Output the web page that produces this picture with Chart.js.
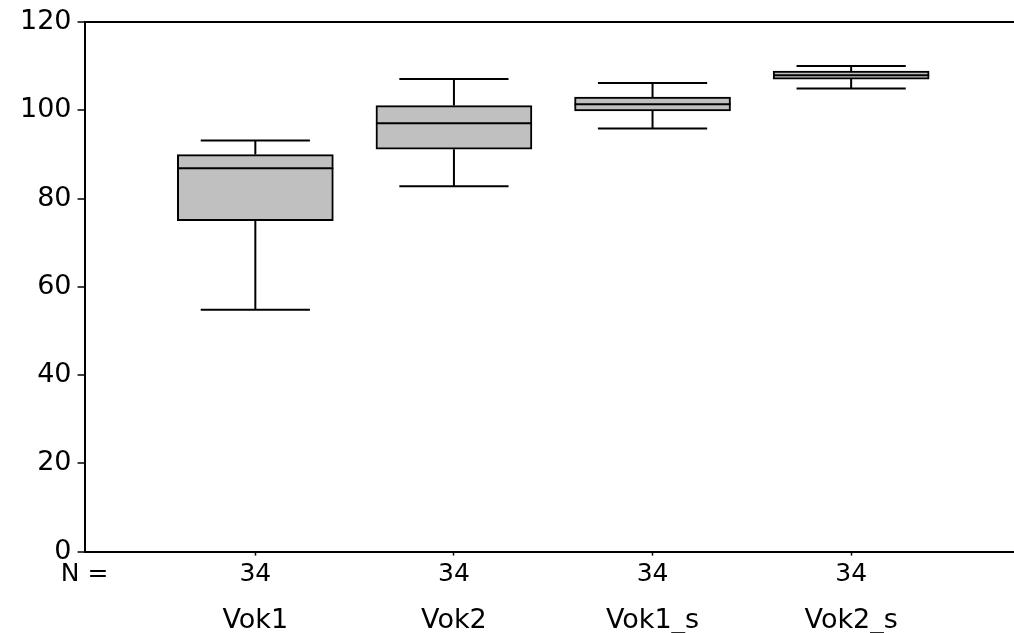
<!DOCTYPE html>
<html>
<head>
<meta charset="utf-8">
<script src="https://cdn.jsdelivr.net/npm/chart.js@4"></script>
<style>
  html, body { margin: 0; padding: 0; background: #fff; }
  #wrap { width: 1014px; height: 633px; }
</style>
</head>
<body>
<div id="wrap"><canvas id="c"></canvas></div>
<script>
// boxplot values
var categories = ['Vok1', 'Vok2', 'Vok1_s', 'Vok2_s'];
var counts = [34, 34, 34, 34];
var minVals = [54.8, 82.8, 95.9, 105.0];
var q1Vals = [75.0, 91.2, 99.9, 107.1];
var medianVals = [86.9, 97.1, 101.4, 108.0];
var q3Vals = [90.0, 101.1, 103.0, 108.9];
var maxVals = [93.2, 107.1, 106.2, 110.1];
var yTicks = [0, 20, 40, 60, 80, 100, 120];

var X_MIN = 0.14, X_MAX = 4.82;
var FONT = 'DejaVu Sans';

// whiskers and medians, drawn through the chart's scales
var whiskerPlugin = {
    id: 'whiskers',
    afterDatasetsDraw: function (chart) {
        var ctx = chart.ctx;
        var x = chart.scales.x, y = chart.scales.y;
        var bars = chart.getDatasetMeta(0).data;
        ctx.save();
        ctx.strokeStyle = '#000';
        ctx.lineWidth = 2;
        categories.forEach(function (c, i) {
            var cx = x.getPixelForValue(i + 1);
            var half = bars[i].width / 2;
            var cap = half * 0.7;
            ctx.beginPath();
            // upper whisker
            ctx.moveTo(cx, y.getPixelForValue(q3Vals[i]));
            ctx.lineTo(cx, y.getPixelForValue(maxVals[i]));
            ctx.moveTo(cx - cap, y.getPixelForValue(maxVals[i]));
            ctx.lineTo(cx + cap, y.getPixelForValue(maxVals[i]));
            // lower whisker
            ctx.moveTo(cx, y.getPixelForValue(q1Vals[i]));
            ctx.lineTo(cx, y.getPixelForValue(minVals[i]));
            ctx.moveTo(cx - cap, y.getPixelForValue(minVals[i]));
            ctx.lineTo(cx + cap, y.getPixelForValue(minVals[i]));
            // median
            ctx.moveTo(cx - half, y.getPixelForValue(medianVals[i]));
            ctx.lineTo(cx + half, y.getPixelForValue(medianVals[i]));
            ctx.stroke();
        });
        ctx.restore();
    }
};

var boxData = categories.map(function (c, i) {
    return { x: i + 1, y: [q1Vals[i], q3Vals[i]] };
});

new Chart(document.getElementById('c'), {
    type: 'bar',
    data: {
        datasets: [{
            data: boxData,
            backgroundColor: '#c0c0c0',
            borderColor: '#000',
            borderWidth: 2,
            borderSkipped: false,
            barThickness: 156
        }]
    },
    options: {
        responsive: true,
        maintainAspectRatio: false,
        animation: false,
        layout: { padding: { left: 14, top: 4, right: 0, bottom: -7 } },
        plugins: { legend: { display: false }, tooltip: { enabled: false } },
        scales: {
            x: {
                type: 'linear',
                position: 'bottom',
                weight: 0,
                offset: false,
                min: X_MIN,
                max: X_MAX,
                afterBuildTicks: function (axis) {
                    axis.ticks = [{ value: X_MIN }].concat(categories.map(function (c, i) { return { value: i + 1 }; }));
                },
                ticks: {
                    color: '#000',
                    font: { family: FONT, size: 25 },
                    padding: 4,
                    maxRotation: 0,
                    autoSkip: false,
                    callback: function (v, idx) { return idx === 0 ? 'N =' : String(counts[idx - 1]); }
                },
                grid: {
                    offset: false,
                    color: 'rgba(0,0,0,0)',
                    tickColor: function (ctx) { return ctx.index === 0 ? 'rgba(0,0,0,0)' : '#000'; },
                    tickLength: 4,
                    tickWidth: 1.5
                },
                border: { color: '#000', width: 2 }
            },
            names: {
                type: 'linear',
                position: 'bottom',
                weight: 1,
                offset: false,
                min: X_MIN,
                max: X_MAX,
                afterBuildTicks: function (axis) {
                    axis.ticks = categories.map(function (c, i) { return { value: i + 1 }; });
                },
                ticks: {
                    color: '#000',
                    font: { family: FONT, size: 27 },
                    padding: 3,
                    maxRotation: 0,
                    autoSkip: false,
                    callback: function (v, idx) { return categories[idx]; }
                },
                grid: { display: false, offset: false },
                border: { display: false }
            },
            y: {
                min: 0,
                max: 120,
                afterBuildTicks: function (axis) {
                    axis.ticks = yTicks.map(function (v) { return { value: v }; });
                },
                ticks: {
                    color: '#000',
                    font: { family: FONT, size: 27 },
                    padding: 6
                },
                grid: {
                    color: function (ctx) { return ctx.tick && ctx.tick.value === 120 ? '#000' : 'rgba(0,0,0,0)'; },
                    lineWidth: 2,
                    tickColor: '#000',
                    tickLength: 7,
                    tickWidth: 1.5
                },
                border: { color: '#000', width: 2 }
            }
        }
    },
    plugins: [whiskerPlugin]
});
</script>
</body>
</html>
